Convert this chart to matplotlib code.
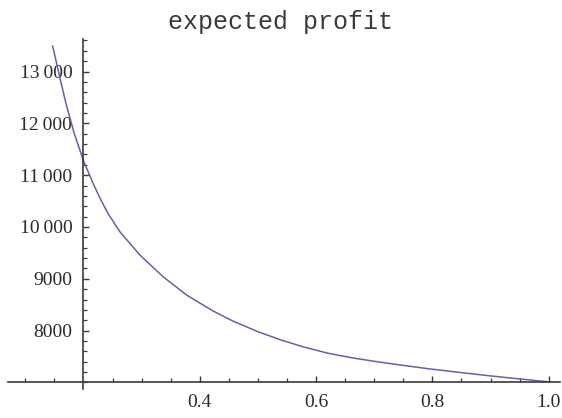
import matplotlib.pyplot as plt
from matplotlib.ticker import FixedLocator, MultipleLocator

# values
p = [0.147, 0.158, 0.17, 0.184, 0.2, 0.217, 0.229, 0.242, 0.263, 0.297,
     0.337, 0.377, 0.422, 0.456, 0.5, 0.537, 0.58, 0.622, 0.665, 0.708,
     0.75, 0.793, 0.85, 0.893, 0.95, 1.0]
profit = [13495, 12950, 12380, 11810, 11280, 10830, 10545, 10265, 9903, 9460,
          9040, 8690, 8385, 8190, 7980, 7830, 7680, 7560, 7470, 7395,
          7330, 7265, 7190, 7135, 7068, 7013]

x_ticks = [0.4, 0.6, 0.8, 1.0]
x_labels = ["0.4", "0.6", "0.8", "1.0"]
y_ticks = [8000, 9000, 10000, 11000, 12000, 13000]
y_labels = ["8000", "9000", "10\u2009000", "11\u2009000", "12\u2009000", "13\u2009000"]

serif = ["Liberation Serif", "DejaVu Serif"]
axis_col = "#3a3a3a"

fig = plt.figure(figsize=(5.62, 4.18), dpi=100)
ax = fig.add_axes([0.015, 0.085, 0.982, 0.822])

ax.plot(p, profit, color="#6262ac", lw=1.1, solid_capstyle="round",
        solid_joinstyle="round")

ax.set_xlim(0.071, 1.02)
ax.set_ylim(7000, 13630)

for side in ("top", "right"):
    ax.spines[side].set_visible(False)
ax.spines["left"].set_position(("data", 0.2))
ax.spines["left"].set_bounds(6880, 13630)
for side in ("left", "bottom"):
    ax.spines[side].set_color(axis_col)
    ax.spines[side].set_linewidth(1.2)

ax.xaxis.set_major_locator(FixedLocator(x_ticks))
ax.set_xticklabels(x_labels, fontfamily=serif, fontsize=14)
ax.xaxis.set_minor_locator(FixedLocator([0.1, 0.15, 0.25, 0.3, 0.35, 0.45, 0.5, 0.55,
                                         0.65, 0.7, 0.75, 0.85, 0.9, 0.95]))
ax.yaxis.set_major_locator(FixedLocator(y_ticks))
ax.set_yticklabels(y_labels, fontfamily=serif, fontsize=14)
ax.yaxis.set_minor_locator(MultipleLocator(200))

ax.tick_params(which="both", direction="in", color=axis_col, labelcolor="#2b2b2b")
ax.tick_params(which="major", length=4.5, width=1.0)
ax.tick_params(which="minor", length=2.8, width=0.9)
ax.tick_params(axis="x", which="both", pad=8)
ax.tick_params(axis="y", which="both", pad=8)

fig.text(0.5, 0.948, "expected profit", family="Liberation Mono", fontsize=18,
         ha="center", va="center", color="#3a3a3a")

fig.savefig("out.png", dpi=100)
